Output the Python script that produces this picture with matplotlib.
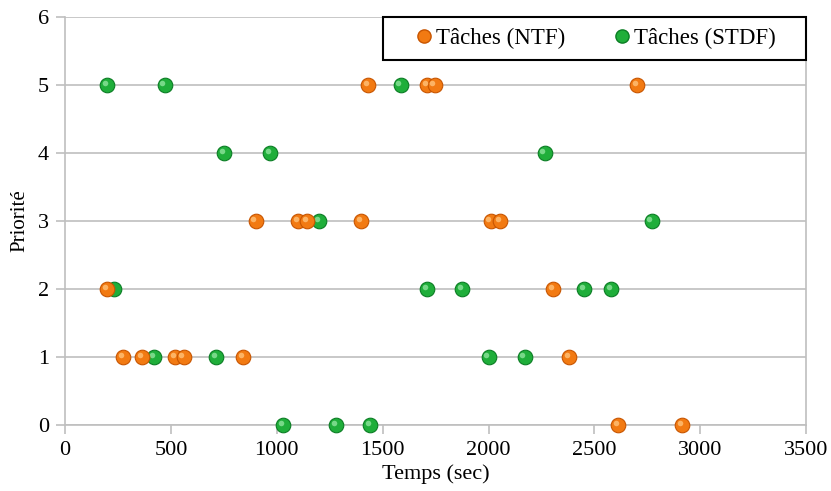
import matplotlib.pyplot as plt
import matplotlib.transforms as mtransforms
from matplotlib.lines import Line2D
from matplotlib.patches import Rectangle

# Temps (sec) et priorité de chaque tâche
ntf_temps = [1430, 1710, 1745, 2700,
             900, 1100, 1145, 1400, 2010, 2055,
             200, 2305,
             275, 365, 520, 560, 840, 2380,
             2610, 2915]
ntf_prio = [5, 5, 5, 5,
            3, 3, 3, 3, 3, 3,
            2, 2,
            1, 1, 1, 1, 1, 1,
            0, 0]

stdf_temps = [200, 470, 1585,
              750, 970, 2265,
              1200, 2770,
              230, 1710, 1875, 2450, 2580,
              420, 715, 2000, 2170,
              1030, 1280, 1440]
stdf_prio = [5, 5, 5,
             4, 4, 4,
             3, 3,
             2, 2, 2, 2, 2,
             1, 1, 1, 1,
             0, 0, 0]

plt.rcParams['font.family'] = ['Liberation Serif', 'DejaVu Serif']

fig = plt.figure(figsize=(8.31, 4.91), dpi=100)
ax = fig.add_axes([0.0782, 0.1344, 0.892, 0.831])

# décalage du reflet (haut-gauche)
decal = ax.transData + mtransforms.ScaledTranslation(-2.2 / 100, 2.2 / 100, fig.dpi_scale_trans)


def boules(x, y, couleur, bord, reflet, z):
    # petite sphère : disque + reflet clair
    ax.plot(x, y, 'o', ms=10.5, color=couleur, mec=bord, mew=0.8, zorder=z, clip_on=False)
    ax.plot(x, y, 'o', ms=4, color=reflet, mec='none', alpha=0.8, zorder=z + 0.1,
            clip_on=False, transform=decal)


boules(stdf_temps, stdf_prio, '#1fae3a', '#0b7d24', '#8ee39c', 3)
boules(ntf_temps, ntf_prio, '#f27a12', '#c85500', '#ffc27a', 4)

ax.set_xlim(0, 3500)
ax.set_ylim(0, 6)
ax.set_xticks(range(0, 3501, 500))
ax.set_yticks(range(0, 7))
ax.yaxis.grid(True, color='#bfbfbf', lw=1.2)
ax.set_axisbelow(True)
for s in ['left', 'bottom', 'right']:
    ax.spines[s].set_color('#bfbfbf')
    ax.spines[s].set_linewidth(1.2)
ax.spines['top'].set_visible(False)
ax.tick_params(axis='both', colors='#bfbfbf', labelcolor='black', labelsize=16,
               length=6.5, width=1.2)
ax.tick_params(axis='y', pad=5)
ax.tick_params(axis='x', pad=5)
ax.set_xlabel('Temps (sec)', fontsize=16, labelpad=3)
ax.set_ylabel('Priorité', fontsize=15, labelpad=6)

# cadre de la légende
ax.add_patch(Rectangle((0.429, 0.8946), 0.571, 0.1054, transform=ax.transAxes,
                       facecolor='white', edgecolor='black', lw=1.5,
                       clip_on=False, zorder=9))

poignees = [
    Line2D([], [], ls='none', marker='o', ms=9.5, color='#f27a12', mec='#c85500'),
    Line2D([], [], ls='none', marker='o', ms=9.5, color='#1fae3a', mec='#0b7d24'),
]
leg = ax.legend(poignees, ['Tâches (NTF)', 'Tâches (STDF)'], ncol=2,
                bbox_to_anchor=(0.7145, 0.9473), loc='center',
                fontsize=16.5, frameon=False, handletextpad=0.1,
                handlelength=0.9, columnspacing=2.0, borderpad=0)
leg.set_zorder(10)

fig.savefig('out.png', dpi=100)
